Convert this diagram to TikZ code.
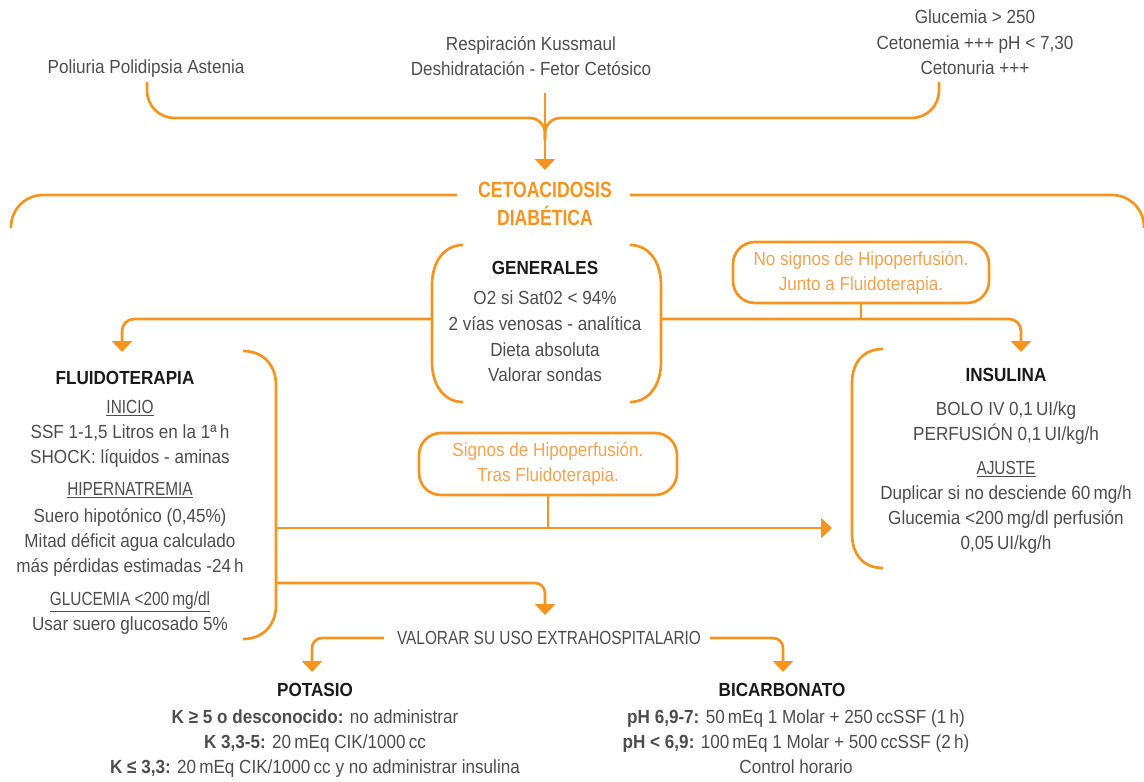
\documentclass[tikz,border=0pt]{standalone}
\usepackage{fontspec}
\setmainfont{Liberation Sans}[FakeStretch=0.9]
\newfontfamily\capsfont{Liberation Sans}[FakeStretch=0.81]
\newfontfamily\titlefont{Liberation Sans}[FakeStretch=0.8]
\usetikzlibrary{arrows.meta}

\definecolor{orng}{HTML}{F7941D}
\definecolor{otext}{HTML}{F9A24E}
\definecolor{txtgrey}{HTML}{4D4D4F}
\definecolor{ink}{HTML}{1A1A1A}

\tikzset{
  ln/.style={draw=orng, line width=2.7pt},
  arr/.style={ln, -{Triangle[width=20pt,length=11pt]}},
  txt/.style={text=txtgrey, font=\fontsize{19}{25}\selectfont, align=center, inner sep=0pt},
  head/.style={text=ink, font=\fontsize{19}{25}\selectfont\bfseries, inner sep=0pt},
  obox/.style={draw=orng, line width=2.7pt, rounded corners=22pt, text=otext,
    font=\fontsize{19}{25}\selectfont, align=center, inner sep=0pt},
  title/.style={text=orng, font=\titlefont\fontsize{22}{28}\selectfont\bfseries, align=center, inner sep=0pt}
}

\begin{document}
\begin{tikzpicture}[x=1pt,y=-1pt]
\useasboundingbox (0,0) rectangle (1144,782);

% --- symptoms and laboratory findings
\node[txt, anchor=north] (sint) at (146,60) {Poliuria Polidipsia Astenia};
\node[txt, anchor=north] (resp) at (531,36) {Respiración Kussmaul\\Deshidratación - Fetor Cetósico};
\node[txt, anchor=north, font=\fontsize{19}{25.5}\selectfont] (lab) at (975,10) {Glucemia > 250\\Cetonemia +++ pH < 7,30\\Cetonuria +++};

% --- main diagnosis
\node[title, anchor=north] (cad) at (545,182) {CETOACIDOSIS\\DIABÉTICA};

% brace joining the three groups
\coordinate (bl) at (147,82);
\coordinate (br) at (939,82);
\coordinate (bc) at (545,93);
\coordinate (bm) at (545,140);
\coordinate (cadin) at (545,170);
\draw[ln] (bl) -- (147,90) .. controls (147,106) and (159,118) .. (175,118) -- (530,118)
  .. controls (538,118) and (545,125) .. (545,133) -- (bm);
\draw[ln] (br) -- (939,90) .. controls (939,106) and (927,118) .. (911,118) -- (560,118)
  .. controls (552,118) and (545,125) .. (545,133) -- (bm);
\draw[arr] (bc) -- (cadin);

% wide brace under the title
\draw[ln, rounded corners=32pt] (457,195) -| (11,228);
\draw[ln, rounded corners=32pt] (630,195) -| (1144,228);

% --- general measures
\node[head, anchor=north] (genh) at (545,261) {GENERALES};
\node[txt, anchor=north, font=\fontsize{19}{25.6}\selectfont] (gen) at (545,291)
  {O2 si Sat02 < 94\%\\2 vías venosas - analítica\\Dieta absoluta\\Valorar sondas};
\draw[ln] (463,245) .. controls (444,245) and (432,262) .. (432,285) -- (432,362)
  .. controls (432,385) and (444,402) .. (463,402);
\draw[ln] (630,245) .. controls (649,245) and (661,262) .. (661,285) -- (661,362)
  .. controls (661,385) and (649,402) .. (630,402);
\coordinate (gl) at (432,319);
\coordinate (gr) at (661,319);

% --- condition boxes
\node[obox, minimum width=256pt, minimum height=61pt] (nosig) at (861,272.5)
  {No signos de Hipoperfusión.\\Junto a Fluidoterapia.};
\node[obox, minimum width=258pt, minimum height=62pt] (sisig) at (548,464)
  {Signos de Hipoperfusión.\\Tras Fluidoterapia.};

% --- fluid therapy
\node[head, anchor=north] (fluh) at (125,371) {FLUIDOTERAPIA};
\node[txt, anchor=north] (flu) at (130,400)
  {\underline{\capsfont INICIO}\\
   SSF 1-1,5 Litros en la 1ª\,h\\
   SHOCK: líquidos - aminas\\[7pt]
   \underline{\capsfont HIPERNATREMIA}\\[2pt]
   Suero hipotónico (0,45\%)\\
   Mitad déficit agua calculado\\
   más pérdidas estimadas -24\,h\\[8pt]
   \underline{\capsfont GLUCEMIA <200\,mg/dl}\\
   Usar suero glucosado 5\%};
\draw[ln] (243,351) .. controls (263,351) and (276,365) .. (276,385) -- (276,605)
  .. controls (276,625) and (263,639) .. (243,639);
\coordinate (fa) at (276,528);
\coordinate (fb) at (276,583);

% --- insulin
\node[head, anchor=north] (insh) at (1006,368) {INSULINA};
\node[txt, anchor=north] (ins) at (1006,402)
  {BOLO IV 0,1\,UI/kg\\
   PERFUSIÓN 0,1\,UI/kg/h\\[9pt]
   \underline{\capsfont AJUSTE}\\
   Duplicar si no desciende 60\,mg/h\\
   Glucemia <200\,mg/dl perfusión\\
   0,05\,UI/kg/h};
\draw[ln] (883,349) .. controls (863,349) and (852,363) .. (852,383) -- (852,534)
  .. controls (852,554) and (863,568) .. (883,568);

% --- arrows from the general measures
\coordinate (fluin) at (122,352);
\coordinate (insin) at (1021,352);
\coordinate (insside) at (832,528);
\draw[arr, rounded corners=12pt] (gl) -| (fluin);
\draw[arr, rounded corners=12pt] (gr) -| (insin);
\draw[ln] (nosig.south) -- (nosig.south |- gr);
\draw[arr] (fa) -- (insside);
\draw[ln] (sisig.south) -- (sisig.south |- fa);

% --- extra-hospital use
\node[txt, font=\capsfont\fontsize{19}{25}\selectfont] (val) at (549,638) {VALORAR SU USO EXTRAHOSPITALARIO};
\coordinate (valin) at (545,615);
\draw[arr, rounded corners=10pt] (fb) -| (valin);
\coordinate (potin) at (312,672);
\coordinate (bicin) at (783,672);
\draw[arr, rounded corners=10pt] ([xshift=-13pt]val.west) -| (potin);
\draw[arr, rounded corners=10pt] ([xshift=9pt]val.east) -| (bicin);

% --- potassium
\node[head, anchor=north] (poth) at (315,683) {POTASIO};
\node[txt, anchor=north] (pot) at (315,710)
  {\textbf{K ≥ 5 o desconocido:} no administrar\\
   \textbf{K 3,3-5:} 20\,mEq CIK/1000\,cc\\
   \textbf{K ≤ 3,3:} 20\,mEq CIK/1000\,cc y no administrar insulina};

% --- bicarbonate
\node[head, anchor=north] (bich) at (782,683) {BICARBONATO};
\node[txt, anchor=north] (bic) at (796,710)
  {\textbf{pH 6,9-7:} 50\,mEq 1 Molar + 250\,ccSSF (1\,h)\\
   \textbf{pH < 6,9:} 100\,mEq 1 Molar + 500\,ccSSF (2\,h)\\
   Control horario};
\end{tikzpicture}
\end{document}
